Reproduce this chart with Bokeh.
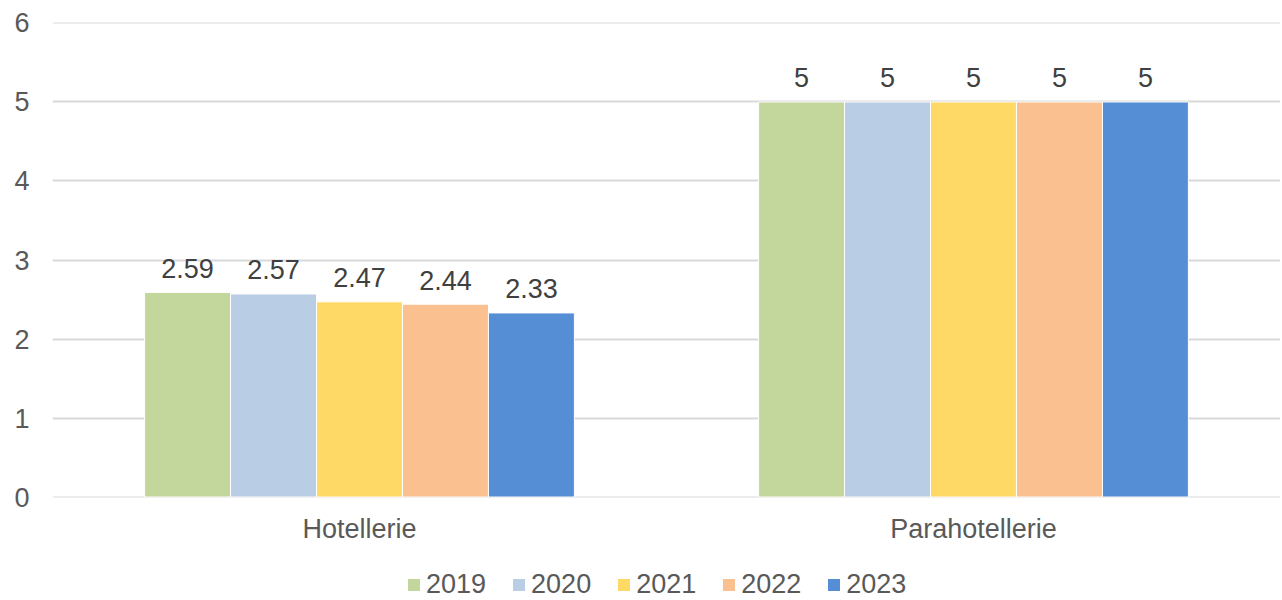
from bokeh.plotting import figure
from bokeh.layouts import column
from bokeh.models import ColumnDataSource, FactorRange, Legend, LegendItem, Range1d, FixedTicker
from bokeh.transform import dodge
from bokeh.core.properties import value
from bokeh.embed import file_html
from bokeh.resources import INLINE

categories = ["Hotellerie", "Parahotellerie"]
years = ["2019", "2020", "2021", "2022", "2023"]
v2019 = [2.59, 5]
v2020 = [2.57, 5]
v2021 = [2.47, 5]
v2022 = [2.44, 5]
v2023 = [2.33, 5]
y_ticks = [0, 1, 2, 3, 4, 5, 6]

series = [v2019, v2020, v2021, v2022, v2023]
colors = ["#C3D69B", "#B9CDE5", "#FFD966", "#FAC090", "#558ED5"]
FONT = value("Liberation Sans")

p = figure(x_range=FactorRange(*categories), y_range=Range1d(-0.006, 6.006),
           width=1280, height=552, output_backend="svg", toolbar_location=None,
           min_border_left=52, min_border_right=0, min_border_top=22, min_border_bottom=55)

bw = 0.14
offsets = [-2 * bw, -bw, 0, bw, 2 * bw]
for yr, vals, off, c in zip(years, series, offsets, colors):
    src = ColumnDataSource(dict(cat=categories, val=vals, lbl=[f"{v:g}" for v in vals]))
    p.vbar(x=dodge("cat", off, range=p.x_range), top="val", width=bw, source=src,
           fill_color=c, line_color="white", line_width=1)
    p.text(x=dodge("cat", off, range=p.x_range), y="val", text="lbl", source=src,
           text_align="center", text_baseline="alphabetic", y_offset=-24,
           text_font=FONT, text_font_size="27px", text_color="#404040")

p.outline_line_color = None
p.xgrid.grid_line_color = None
p.ygrid.grid_line_color = "#D9D9D9"
p.ygrid.grid_line_width = 2
p.ygrid.ticker = FixedTicker(ticks=y_ticks)
p.ygrid.level = "underlay"

p.yaxis.ticker = FixedTicker(ticks=y_ticks)
p.yaxis.axis_line_color = None
p.yaxis.major_tick_line_color = None
p.yaxis.minor_tick_line_color = None
p.yaxis.major_tick_out = 0
p.yaxis.major_label_standoff = 23
p.yaxis.major_label_text_font = "Liberation Sans"
p.yaxis.major_label_text_font_size = "27px"
p.yaxis.major_label_text_color = "#595959"

p.xaxis.axis_line_color = None
p.xaxis.major_tick_line_color = None
p.xaxis.major_tick_out = 0
p.xaxis.major_label_standoff = 16
p.xaxis.major_label_text_font = "Liberation Sans"
p.xaxis.major_label_text_font_size = "27px"
p.xaxis.major_label_text_color = "#595959"

# legend strip (its swatch renderers sit outside the strip's visible range)
lg = figure(x_range=Range1d(0, 1), y_range=Range1d(0, 1), width=1280, height=46,
            output_backend="svg", toolbar_location=None, x_axis_type=None, y_axis_type=None,
            min_border=0, min_border_left=0, min_border_right=0, min_border_top=0, min_border_bottom=0)
lg.outline_line_color = None
lg.xgrid.visible = False
lg.ygrid.visible = False
items = []
for yr, c in zip(years, colors):
    r = lg.vbar(x=[-10], top=[-10], bottom=[-11], width=0.1, fill_color=c, line_color=None)
    items.append(LegendItem(label=yr, renderers=[r]))
legend = Legend(items=items, orientation="horizontal", location=(354, -2),
                padding=0, margin=0, spacing=25, glyph_width=15, glyph_height=15,
                label_standoff=5, label_text_font="Liberation Sans",
                label_text_font_size="27px", label_text_color="#595959",
                border_line_color=None, background_fill_alpha=0)
lg.add_layout(legend)

layout = column(p, lg, spacing=0)
open("out.html", "w").write(file_html(layout, INLINE))
